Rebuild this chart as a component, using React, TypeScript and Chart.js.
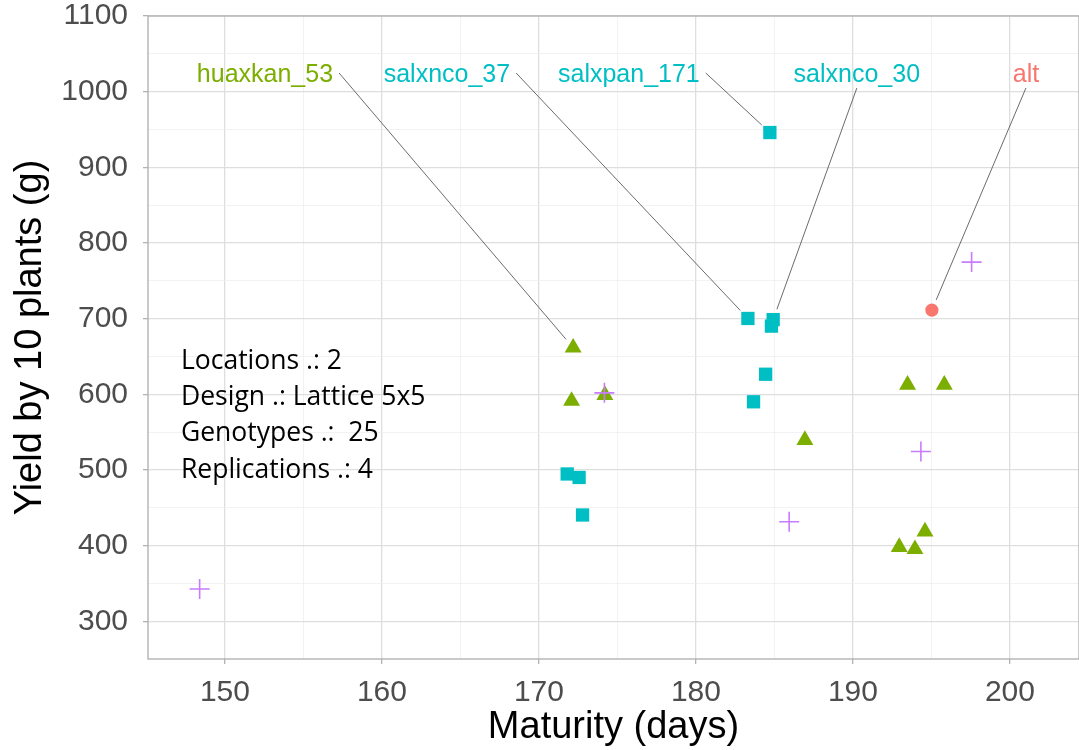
import React, { useEffect, useRef } from 'react';
import { Chart, registerables } from 'chart.js';

Chart.register(...registerables);

// ---- data ----
const greenX = [172.18, 172.08, 174.2, 186.94, 193.48, 195.82, 194.59, 192.95, 193.95];
const greenY = [661.7, 591.3, 599, 539.6, 612.7, 612.7, 418.6, 398.2, 395.4];
const tealX = [184.71, 183.31, 184.92, 184.81, 184.44, 183.67, 171.8, 172.56, 172.78];
const tealY = [946, 700.3, 698.8, 690.2, 626.6, 590.2, 494.8, 490.2, 440.6];
const redX = [195.03];
const redY = [711.4];
const purpleX = [148.39, 174.17, 185.94, 194.33, 197.56];
const purpleY = [342.8, 602, 431.7, 524.6, 774.8];

const labelTexts = ['huaxkan_53', 'salxnco_37', 'salxpan_171', 'salxnco_30', 'alt'];
const labelX = [152.55, 164.14, 175.73, 190.25, 201.02];
const labelY = [1022, 1022, 1022, 1022, 1022];
const labelSeries = ['green', 'teal', 'teal', 'teal', 'red'];
const labelPointIndex = [0, 1, 0, 2, 0];

const xTicks = [150, 155, 160, 165, 170, 175, 180, 185, 190, 195, 200];
const xMajor = [150, 160, 170, 180, 190, 200];
const yTicks = [300, 350, 400, 450, 500, 550, 600, 650, 700, 750, 800, 850, 900, 950, 1000, 1050, 1100];
const yMajor = [300, 400, 500, 600, 700, 800, 900, 1000, 1100];

const noteLines = ['Locations .: 2', 'Design .: Lattice 5x5', 'Genotypes .:  25', 'Replications .: 4'];
const noteX = 147.2;
const noteY = 634;

const xTitle = 'Maturity (days)';
const yTitle = 'Yield by 10 plants (g)';

const COLORS: Record<string, string> = {
  green: '#7CAE00',
  teal: '#00BFC4',
  red: '#F8766D',
  purple: '#C77CFF',
};

const SERIES: Record<string, { xs: number[]; ys: number[] }> = {
  green: { xs: greenX, ys: greenY },
  teal: { xs: tealX, ys: tealY },
  red: { xs: redX, ys: redY },
  purple: { xs: purpleX, ys: purpleY },
};

const SANS = "'Liberation Sans', Arial, sans-serif";

const toPts = (xs: number[], ys: number[]) => xs.map((x, i) => ({ x, y: ys[i] }));

const overlayPlugin = {
  id: 'overlay',
  beforeDatasetsDraw(chart: any) {
    const { ctx, chartArea } = chart;
    ctx.save();
    ctx.strokeStyle = '#b3b3b3';
    ctx.lineWidth = 1.4;
    ctx.strokeRect(chartArea.left, chartArea.top, chartArea.right - chartArea.left, chartArea.bottom - chartArea.top);
    ctx.restore();
  },
  afterDatasetsDraw(chart: any) {
    const { ctx } = chart;
    const xs = chart.scales.x;
    const ys = chart.scales.y;
    ctx.save();
    // note text
    ctx.font = "26.5px 'Open Sans', 'Noto Sans', sans-serif";
    ctx.fillStyle = '#000000';
    ctx.textAlign = 'left';
    ctx.textBaseline = 'alphabetic';
    const nx = xs.getPixelForValue(noteX);
    const ny = ys.getPixelForValue(noteY);
    noteLines.forEach((t, i) => ctx.fillText(t, nx, ny + i * 36.3));

    // repel labels
    ctx.font = `25px ${SANS}`;
    labelTexts.forEach((t, i) => {
      const s = SERIES[labelSeries[i]];
      const px = xs.getPixelForValue(s.xs[labelPointIndex[i]]);
      const py = ys.getPixelForValue(s.ys[labelPointIndex[i]]);
      const cx = xs.getPixelForValue(labelX[i]);
      const cy = ys.getPixelForValue(labelY[i]);
      const hw = ctx.measureText(t).width / 2;
      const dx = px - cx;
      const dy = py - cy;
      let sx: number, sy: number;
      if (Math.abs(dy) > 2 * Math.abs(dx)) {
        sx = cx;
        sy = cy + (dy > 0 ? 13 : -13);
      } else {
        sx = cx + (dx > 0 ? hw + 6 : -hw - 6);
        sy = cy - 2;
      }
      const ddx = px - sx;
      const ddy = py - sy;
      const len = Math.sqrt(ddx * ddx + ddy * ddy);
      const gap = 11;
      const ex = px - (ddx / len) * gap;
      const ey = py - (ddy / len) * gap;
      ctx.strokeStyle = '#5a5a5a';
      ctx.lineWidth = 0.9;
      ctx.beginPath();
      ctx.moveTo(sx, sy);
      ctx.lineTo(ex, ey);
      ctx.stroke();
      ctx.fillStyle = COLORS[labelSeries[i]];
      ctx.textAlign = 'center';
      ctx.textBaseline = 'middle';
      ctx.fillText(t, cx, cy);
    });
    ctx.restore();
  },
};

const isMajorX = (v: number) => xMajor.includes(v);
const isMajorY = (v: number) => yMajor.includes(v);

export default function App() {
  const ref = useRef<HTMLCanvasElement | null>(null);

  useEffect(() => {
    document.body.style.margin = '0';
    document.body.style.overflow = 'hidden';
    const canvas = ref.current;
    if (!canvas) return;
    const chart = new Chart(canvas, {
      type: 'scatter',
      data: {
        datasets: [
          {
            label: 'purple',
            data: toPts(purpleX, purpleY),
            pointStyle: 'cross',
            pointRadius: 10,
            pointBorderColor: COLORS.purple,
            pointBackgroundColor: COLORS.purple,
            pointBorderWidth: 1.6,
            order: 0,
          },
          {
            label: 'teal',
            data: toPts(tealX, tealY),
            pointStyle: 'rect',
            pointRadius: 9.4,
            pointBackgroundColor: COLORS.teal,
            pointBorderColor: COLORS.teal,
            pointBorderWidth: 0,
            order: 1,
          },
          {
            label: 'green',
            data: toPts(greenX, greenY),
            pointStyle: 'triangle',
            pointRadius: 9.8,
            pointBackgroundColor: COLORS.green,
            pointBorderColor: COLORS.green,
            pointBorderWidth: 0,
            order: 2,
          },
          {
            label: 'red',
            data: toPts(redX, redY),
            pointStyle: 'circle',
            pointRadius: 6.6,
            pointBackgroundColor: COLORS.red,
            pointBorderColor: COLORS.red,
            pointBorderWidth: 0,
            order: 3,
          },
        ],
      },
      options: {
        animation: false,
        responsive: false,
        devicePixelRatio: 1,
        events: [],
        layout: { padding: { top: 16, right: 21, left: 0, bottom: 0 } },
        plugins: { legend: { display: false }, tooltip: { enabled: false } },
        scales: {
          x: {
            type: 'linear',
            min: 145.1,
            max: 204.4,
            afterBuildTicks: (s: any) => {
              s.ticks = xTicks.map((v) => ({ value: v }));
            },
            afterFit: (s: any) => {
              s.height = 91;
              s.paddingLeft = 0;
              s.paddingRight = 0;
            },
            border: { display: false },
            grid: {
              color: (c: any) => (isMajorX(c.tick?.value) ? '#dedede' : '#ededed'),
              lineWidth: (c: any) => (isMajorX(c.tick?.value) ? 1.3 : 0.7),
              drawTicks: true,
              tickLength: 5,
              tickColor: (c: any) => (isMajorX(c.tick?.value) ? '#b3b3b3' : 'rgba(0,0,0,0)'),
              tickWidth: 1.3,
            },
            ticks: {
              autoSkip: false,
              maxRotation: 0,
              padding: 11,
              color: '#4d4d4d',
              font: { family: SANS, size: 30 },
              callback: (v: any) => (isMajorX(Number(v)) ? String(v) : ''),
            },
            title: {
              display: true,
              text: xTitle,
              color: '#000000',
              font: { family: SANS, size: 38 },
              padding: { top: 0, bottom: 0 },
            },
          },
          y: {
            type: 'linear',
            min: 250.3,
            max: 1100,
            afterBuildTicks: (s: any) => {
              s.ticks = yTicks.map((v) => ({ value: v }));
            },
            afterFit: (s: any) => {
              s.width = 148;
              s.paddingTop = 0;
              s.paddingBottom = 0;
            },
            border: { display: false },
            grid: {
              color: (c: any) => (isMajorY(c.tick?.value) ? '#dedede' : '#ededed'),
              lineWidth: (c: any) => (isMajorY(c.tick?.value) ? 1.3 : 0.7),
              drawTicks: true,
              tickLength: 5,
              tickColor: (c: any) => (isMajorY(c.tick?.value) ? '#b3b3b3' : 'rgba(0,0,0,0)'),
              tickWidth: 1.3,
            },
            ticks: {
              autoSkip: false,
              padding: 15,
              color: '#4d4d4d',
              font: { family: SANS, size: 30, lineHeight: 1 },
              callback: (v: any) => (isMajorY(Number(v)) ? String(v) : ''),
            },
            title: {
              display: true,
              text: yTitle,
              color: '#000000',
              font: { family: SANS, size: 38 },
              padding: { top: 8, bottom: 0 },
            },
          },
        },
      },
      plugins: [overlayPlugin],
    } as any);
    return () => chart.destroy();
  }, []);

  return (
    <div style={{ position: 'absolute', left: 0, top: 0, width: 1079, height: 750, overflow: 'hidden', background: '#ffffff' }}>
      <canvas ref={ref} width={1100} height={750} style={{ display: 'block' }} />
    </div>
  );
}
